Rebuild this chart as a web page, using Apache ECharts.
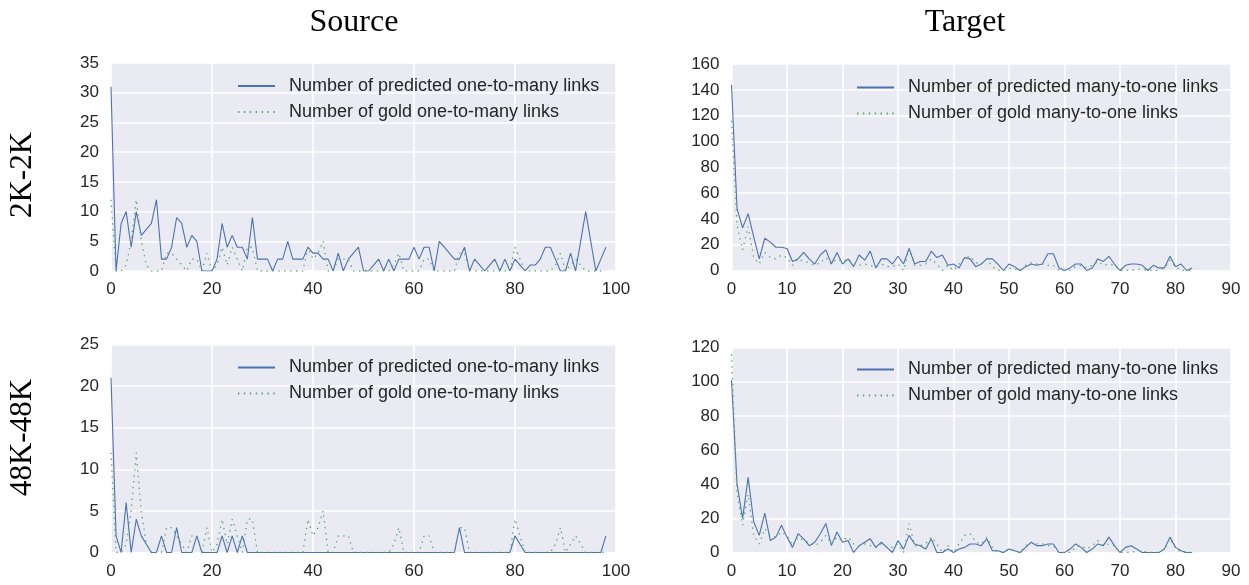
<!DOCTYPE html>
<html>
<head>
<meta charset="utf-8">
<script src="https://cdn.jsdelivr.net/npm/echarts@6/dist/echarts.min.js"></script>
<style>
  html, body { margin: 0; padding: 0; background: #fff; }
  #chart { width: 1249px; height: 585px; }
</style>
</head>
<body>
<div id="chart"></div>
<script>
// values, index = x position
const srcPred2K = [31, 0, 8, 10, 4, 10, 6, 7, 8, 12,
  2, 2, 4, 9, 8, 4, 6, 5, 0, 0,
  0, 2, 8, 4, 6, 4, 4, 2, 9, 2,
  2, 2, 0, 2, 2, 5, 2, 2, 2, 4,
  3, 3, 2, 2, 0, 3, 0, 2, 3, 4,
  0, 0, 1, 2, 0, 2, 0, 2, 2, 2,
  4, 2, 4, 4, 0, 5, 4, 3, 2, 2,
  4, 0, 2, 1, 0, 1, 2, 0, 2, 0,
  2, 1, 0, 1, 1, 2, 4, 4, 2, 0,
  0, 3, 0, 5, 10, 5, 0, 2, 4];
const srcPred48K = [21, 2, 0, 6, 0, 4, 2, 1, 0, 0,
  2, 0, 0, 3, 0, 0, 0, 2, 0, 0,
  0, 0, 2, 0, 2, 0, 2, 0, 0, 0,
  0, 0, 0, 0, 0, 0, 0, 0, 0, 0,
  0, 0, 0, 0, 0, 0, 0, 0, 0, 0,
  0, 0, 0, 0, 0, 0, 0, 0, 0, 0,
  0, 0, 0, 0, 0, 0, 0, 0, 0, 3,
  0, 0, 0, 0, 0, 0, 0, 0, 0, 0,
  2, 1, 0, 0, 0, 0, 0, 0, 0, 0,
  0, 0, 0, 0, 0, 0, 0, 0, 2];
const srcGold = [12, 0, 0, 1, 5, 12, 5, 1, 0, 0,
  0, 3, 3, 2, 1, 0, 2, 2, 0, 3,
  0, 1, 4, 1, 4, 2, 0, 4, 4, 0,
  0, 0, 0, 0, 0, 0, 0, 0, 0, 4,
  2, 3, 5, 0, 0, 2, 2, 2, 0, 0,
  0, 0, 0, 0, 0, 0, 1, 3, 0, 0,
  0, 0, 2, 2, 0, 0, 0, 0, 0, 3,
  3, 0, 0, 0, 0, 0, 0, 0, 0, 0,
  4, 2, 0, 0, 0, 0, 0, 0, 1, 3,
  0, 1, 2, 1, 0, 0, 0, 0, 0];

const tgtPred2K = [144, 48, 33, 44, 26, 9, 25, 22, 18, 18,
  17, 7, 9, 14, 9, 5, 12, 16, 5, 14,
  5, 9, 3, 12, 8, 15, 2, 9, 9, 5,
  11, 5, 17, 5, 7, 7, 15, 10, 12, 4,
  5, 2, 10, 9, 3, 5, 9, 9, 5, 0,
  5, 3, 0, 3, 5, 4, 5, 13, 13, 2,
  0, 2, 5, 5, 0, 2, 9, 7, 11, 5,
  0, 4, 5, 5, 4, 0, 4, 2, 2, 11,
  3, 5, 0, 2];
const tgtPred48K = [101, 40, 20, 44, 18, 10, 23, 7, 9, 16,
  9, 3, 11, 8, 4, 6, 11, 17, 4, 12,
  6, 7, 0, 4, 6, 8, 3, 6, 3, 0,
  7, 2, 10, 5, 4, 2, 8, 0, 0, 2,
  0, 2, 3, 5, 5, 4, 8, 1, 1, 0,
  2, 1, 0, 3, 6, 4, 4, 5, 5, 0,
  0, 2, 5, 3, 0, 2, 5, 4, 9, 4,
  0, 3, 4, 2, 0, 0, 0, 0, 2, 9,
  3, 1, 0, 0];
const tgtGold = [116, 35, 16, 34, 10, 5, 14, 10, 9, 12,
  10, 4, 9, 7, 6, 4, 6, 10, 5, 9,
  7, 9, 5, 4, 5, 4, 3, 5, 3, 3,
  5, 0, 17, 4, 4, 5, 9, 5, 0, 4,
  0, 5, 10, 11, 6, 5, 9, 3, 0, 0,
  2, 1, 0, 4, 6, 5, 5, 4, 4, 0,
  0, 0, 3, 4, 2, 4, 7, 4, 5, 4,
  0, 0, 0, 1, 1, 0, 0, 0, 2, 8,
  3, 0, 0, 0];

const colTitles = ['Source', 'Target'];
const rowTitles = ['2K-2K', '48K-48K'];
const predSrcName = 'Number of predicted one-to-many links';
const goldSrcName = 'Number of gold one-to-many links';
const predTgtName = 'Number of predicted many-to-one links';
const goldTgtName = 'Number of gold many-to-one links';

const BLUE = '#4C72B0';
const GREEN = '#55A868';
const INK = '#262626';

const toPairs = arr => arr.map((v, i) => [i, v]);

// [left, top, width, height] of each plot area
const grids = [
  [111, 63, 505, 208],
  [731.5, 64, 499.5, 206.5],
  [111, 344.5, 505, 208],
  [731.5, 347.5, 499.5, 205]
];
const xMax = [100, 90, 100, 90];
const xStep = [20, 10, 20, 10];
const yMax = [35, 160, 25, 120];
const yStep = [5, 20, 5, 20];

const gridLine = { show: true, lineStyle: { color: '#fff', width: 1.6 } };
const tickFont = { color: INK, fontSize: 17, fontFamily: 'Liberation Sans' };

const chart = echarts.init(document.getElementById('chart'));

const panels = [
  { pred: srcPred2K, gold: srcGold, names: [predSrcName, goldSrcName] },
  { pred: tgtPred2K, gold: tgtGold, names: [predTgtName, goldTgtName] },
  { pred: srcPred48K, gold: srcGold, names: [predSrcName, goldSrcName] },
  { pred: tgtPred48K, gold: tgtGold, names: [predTgtName, goldTgtName] }
];

const series = [];
panels.forEach((p, i) => {
  series.push({
    name: p.names[0], type: 'line', xAxisIndex: i, yAxisIndex: i,
    data: toPairs(p.pred), symbol: 'none', animation: false,
    lineStyle: { color: BLUE, width: 1.1 }, itemStyle: { color: BLUE }
  });
  series.push({
    name: p.names[1], type: 'line', xAxisIndex: i, yAxisIndex: i,
    data: toPairs(p.gold), symbol: 'none', animation: false,
    lineStyle: { color: GREEN, width: 1.3, type: [1.4, 4.5] }, itemStyle: { color: GREEN }
  });
});

const legendPos = [[237, 76], [856, 77.5], [237, 357.5], [856, 359.5]];

chart.setOption({
  backgroundColor: '#fff',
  animation: false,
  title: colTitles.map((t, i) => ({
    text: t, left: i === 0 ? 349 : 960, top: 2, textAlign: 'center',
    textStyle: { fontFamily: 'Liberation Serif', fontSize: 32, fontWeight: 'normal', color: '#000' }
  })),
  graphic: rowTitles.map((t, i) => ({
    type: 'text', x: 23, y: i === 0 ? 175 : 437.5, rotation: Math.PI / 2,
    style: { text: t, font: '31px "Liberation Serif"', fill: '#000', textAlign: 'center', textVerticalAlign: 'middle' }
  })),
  grid: grids.map(g => ({
    left: g[0], top: g[1], width: g[2], height: g[3],
    show: true, backgroundColor: '#EAEAF2', borderWidth: 0
  })),
  legend: panels.map((p, i) => ({
    data: p.names, orient: 'vertical', left: legendPos[i][0], top: legendPos[i][1],
    padding: 0, itemWidth: 37, itemHeight: 14, itemGap: 6, selectedMode: false,
    itemStyle: { opacity: 0 },
    textStyle: { color: INK, fontSize: 18, fontFamily: 'Liberation Sans', lineHeight: 20, padding: [0, 0, 0, 9] }
  })),
  xAxis: grids.map((g, i) => ({
    type: 'value', gridIndex: i, min: 0, max: xMax[i], interval: xStep[i],
    axisLine: { show: false }, axisTick: { show: false }, splitLine: gridLine,
    axisLabel: Object.assign({ margin: 10 }, tickFont)
  })),
  yAxis: grids.map((g, i) => ({
    type: 'value', gridIndex: i, min: 0, max: yMax[i], interval: yStep[i],
    axisLine: { show: false }, axisTick: { show: false }, splitLine: gridLine,
    axisLabel: Object.assign({ margin: 12 }, tickFont)
  })),
  series: series
});
</script>
</body>
</html>
